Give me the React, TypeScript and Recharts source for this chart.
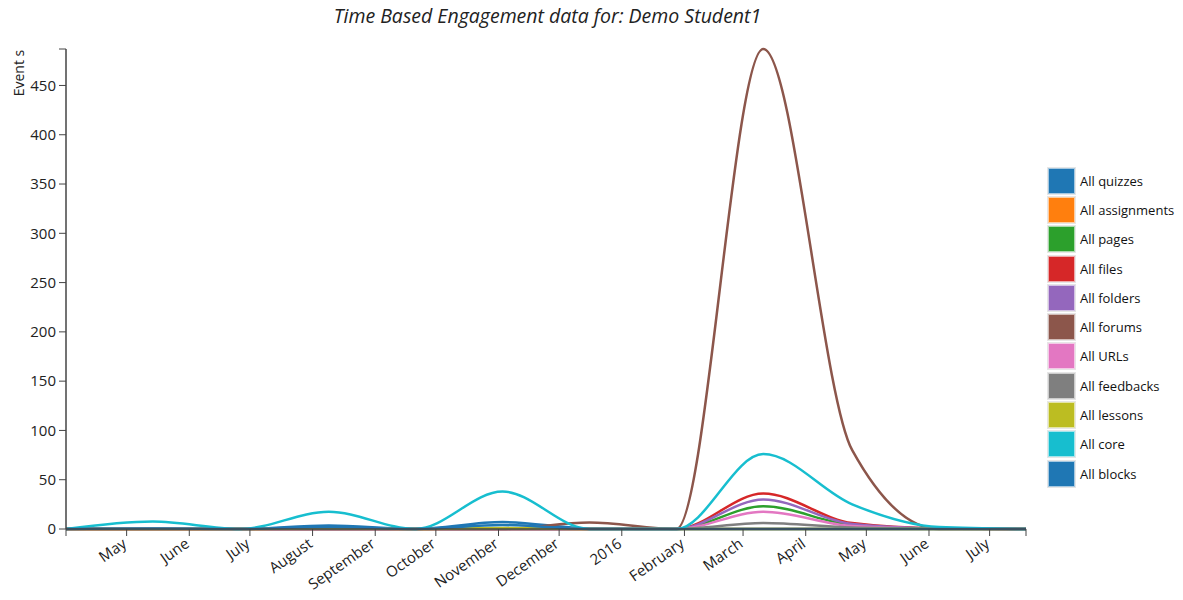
import React from 'react';
import { LineChart, Line, XAxis, YAxis } from 'recharts';

// sample dates, as days after 1 April 2015
const days = [0, 43, 86, 130, 173, 216, 259, 302, 345, 389, 432, 475];

const quizzes = [0, 0, 0, 3.5, 0, 7, 0.5, 0, 0, 0, 0, 0];
const assignments = [0, 0, 0, 0, 0, 0, 0, 0, 0, 0, 0, 0];
const pages = [0, 0, 0, 0, 0, 0, 0, 0, 23, 4, 0.3, 0];
const files = [0, 0, 0, 0, 0, 0, 0, 0, 36, 6, 0.5, 0];
const folders = [0, 0, 0, 0, 0, 0, 0, 0, 30, 5, 0.5, 0];
const forums = [0, 0, 0, 0, 0, 0, 6.5, 0, 487, 80, 0, 0];
const urls = [0, 0, 0, 0, 0, 0, 0, 0, 17.5, 3, 0.3, 0];
const feedbacks = [0, 0, 0, 0, 0, 0, 0, 0, 6, 1.5, 0.5, 0];
const lessons = [0, 0, 0, 1, 0, 1, 0, 0, 0, 0, 0, 0];
const core = [0, 7.5, 0, 17.5, 0, 38, 0, 0, 76, 25, 2, 0];
const blocks = [0, 0.5, 0, 2, 0, 4, 0, 0, 0, 0, 0, 0];

const seriesNames = [
  'All quizzes', 'All assignments', 'All pages', 'All files', 'All folders', 'All forums',
  'All URLs', 'All feedbacks', 'All lessons', 'All core', 'All blocks',
];
const seriesValues = [quizzes, assignments, pages, files, folders, forums, urls, feedbacks, lessons, core, blocks];
const seriesColors = [
  '#1f77b4', '#ff7f0e', '#2ca02c', '#d62728', '#9467bd', '#8c564b',
  '#e377c2', '#7f7f7f', '#bcbd22', '#17becf', '#1f77b4',
];

// month starts (days after 1 April 2015) and their labels; ends carry no label
const monthTicks = [0, 30, 61, 91, 122, 153, 183, 214, 244, 275, 306, 335, 366, 396, 427, 457, 475];
const monthLabels = ['', 'May', 'June', 'July', 'August', 'September', 'October', 'November', 'December',
  '2016', 'February', 'March', 'April', 'May', 'June', 'July', ''];

const yTicks = [0, 50, 100, 150, 200, 250, 300, 350, 400, 450, 487];
const yMax = 487;

const rows = days.map((d, i) => {
  const row: Record<string, number> = { day: d };
  seriesNames.forEach((n, s) => { row['s' + s] = seriesValues[s][i]; });
  return row;
});

const font = '"Open Sans", sans-serif';

function MonthTick(props: any) {
  const { x, y, payload } = props;
  const label = monthLabels[monthTicks.indexOf(payload.value)];
  if (!label) return null;
  return (
    <g transform={`translate(${x + 1},${y + 8}) rotate(-35)`}>
      <text x={0} y={0} textAnchor="end" fill="#222" fontSize={15} fontFamily={font}>{label}</text>
    </g>
  );
}

export default function App() {
  return (
    <div style={{ position: 'relative', width: 1167, height: 592, fontFamily: font }}>
      <div style={{ position: 'absolute', left: 0, width: 1079, top: -4, textAlign: 'center', fontStyle: 'italic', fontSize: 19.5, lineHeight: '24px', color: '#222' }}>
        Time Based Engagement data for: Demo Student1
      </div>
      <div style={{ position: 'absolute', left: 10, top: 65, transform: 'translate(-50%,-50%) rotate(-90deg)', fontSize: 14, color: '#222', whiteSpace: 'pre' }}>
        Event s
      </div>
      <LineChart width={1167} height={592} data={rows} margin={{ top: 41, right: 149, bottom: 0, left: 0 }} style={{ overflow: 'visible' }}>
        <XAxis
          dataKey="day"
          type="number"
          domain={[0, 475]}
          ticks={monthTicks}
          interval={0}
          height={71}
          tickSize={7}
          tick={<MonthTick />}
          axisLine={{ stroke: '#444', strokeWidth: 1.5 }}
          tickLine={{ stroke: '#444' }}
        />
        <YAxis
          type="number"
          domain={[0, yMax]}
          ticks={yTicks}
          interval={0}
          width={58}
          tickSize={7}
          tickMargin={3}
          tickFormatter={(v: number) => (v === yMax ? '' : String(v))}
          tick={{ fill: '#222', fontSize: 15, fontFamily: font }}
          axisLine={{ stroke: '#444', strokeWidth: 1.5 }}
          tickLine={{ stroke: '#444' }}
        />
        {seriesNames.map((n, s) => (
          <Line
            key={n}
            dataKey={'s' + s}
            name={n}
            type="monotone"
            stroke={seriesColors[s]}
            strokeWidth={2.5}
            dot={false}
            activeDot={false}
            isAnimationActive={false}
          />
        ))}
      </LineChart>
      <div style={{ position: 'absolute', left: 1040, top: 158 }}>
        {seriesNames.map((n, s) => (
          <div key={n} style={{ display: 'flex', alignItems: 'center', height: 29.3 }}>
            <div style={{ width: 25, height: 24, background: seriesColors[s], border: '1px solid rgba(255,255,255,0.6)', boxShadow: '0 0 0 1px #e6e6e6' }} />
            <span style={{ marginLeft: 5, fontSize: 13, color: '#111' }}>{n}</span>
          </div>
        ))}
      </div>
    </div>
  );
}
